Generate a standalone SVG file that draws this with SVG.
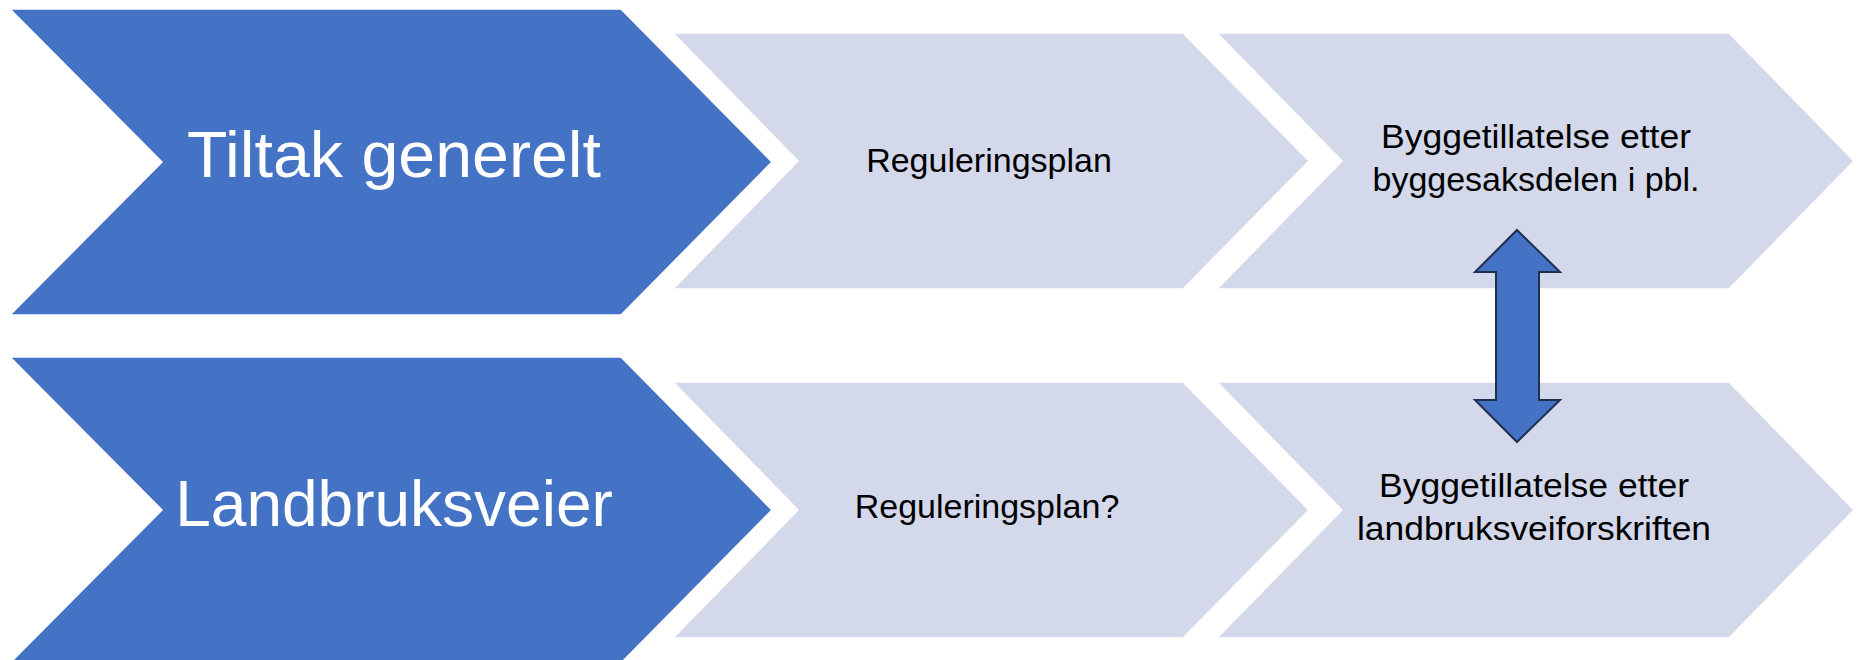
<svg xmlns="http://www.w3.org/2000/svg" width="1864" height="660" viewBox="0 0 1864 660">
  <style>
    .main { fill: #4472C4; stroke: #FFFFFF; stroke-width: 1.5; }
    .step { fill: #D3D8EA; stroke: #FFFFFF; stroke-width: 1.5; }
    .big { font-family: "Liberation Sans", Arial, sans-serif; font-size: 64px; fill: #FFFFFF; text-anchor: middle; }
    .lbl { font-family: "Liberation Sans", Arial, sans-serif; font-size: 34px; fill: #000000; text-anchor: middle; }
    .arrow { fill: #4472C4; stroke: #1F2F4F; stroke-width: 2; stroke-linejoin: miter; }
  </style>
  <rect width="1864" height="660" fill="#FFFFFF"/>
  <g id="tiltak-generelt">
    <polygon class="main" points="10,9 621,9 772,162 621,315 10,315 162,162"/>
    <text class="big" x="394" y="177" textLength="414" lengthAdjust="spacingAndGlyphs">Tiltak generelt</text>
  </g>
  <g id="reguleringsplan-1">
    <polygon class="step" points="673,33 1183,33 1309,161 1183,289 673,289 798,161"/>
    <text class="lbl" x="989" y="172">Reguleringsplan</text>
  </g>
  <g id="byggetillatelse-pbl">
    <polygon class="step" points="1217,33 1729,33 1854,161 1729,289 1217,289 1342,161"/>
    <text class="lbl" x="1536" y="148" textLength="310" lengthAdjust="spacingAndGlyphs">Byggetillatelse etter</text>
    <text class="lbl" x="1536" y="191">byggesaksdelen i pbl.</text>
  </g>
  <g id="landbruksveier">
    <polygon class="main" points="10,357 621,357 772,510 621,663 10,663 162,510"/>
    <text class="big" x="394" y="526">Landbruksveier</text>
  </g>
  <g id="reguleringsplan-2">
    <polygon class="step" points="673,382 1183,382 1309,510 1183,638 673,638 798,510"/>
    <text class="lbl" x="987" y="518">Reguleringsplan?</text>
  </g>
  <g id="byggetillatelse-landbruksvei">
    <polygon class="step" points="1217,382 1729,382 1854,510 1729,638 1217,638 1342,510"/>
    <text class="lbl" x="1534" y="497" textLength="310" lengthAdjust="spacingAndGlyphs">Byggetillatelse etter</text>
    <text class="lbl" x="1534" y="540" textLength="354" lengthAdjust="spacingAndGlyphs">landbruksveiforskriften</text>
  </g>
  <g id="connectors">
    <path class="arrow" d="M1517,230 L1560,272 L1539,272 L1539,400 L1560,400 L1517,442 L1475,400 L1496,400 L1496,272 L1475,272 Z"/>
  </g>
</svg>
